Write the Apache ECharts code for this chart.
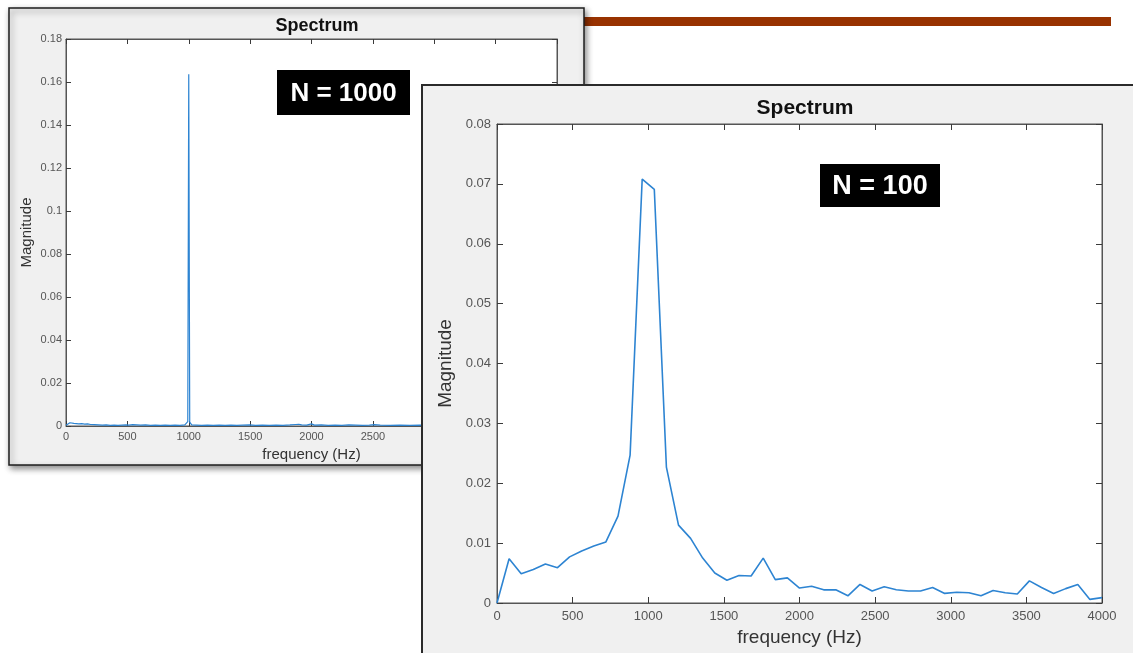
<!DOCTYPE html>
<html>
<head>
<meta charset="utf-8">
<title>Spectrum N = 1000 / N = 100</title>
<script src="https://cdn.jsdelivr.net/npm/echarts@6/dist/echarts.min.js"></script>
<style>
	html, body { margin: 0; padding: 0; background: #fff; }
	#spectrum { width: 1133px; height: 653px; }
</style>
</head>
<body>
<div id="spectrum"></div>
<script>
//////////// 데이터 ////////////
// N = 1000 (뒤쪽 창) - 눈으로 읽은 값
var freq1000 = [0, 16, 32, 48, 64, 80, 104, 128, 152, 176, 200, 232, 264, 296, 328, 360, 392, 424, 456, 488,
	512, 544, 560, 576, 608, 648, 688, 728, 768, 808, 848, 888, 928, 968, 992, 1000, 1008, 1024, 1064, 1104,
	1152, 1200, 1248, 1296, 1344, 1392, 1440, 1496, 1544, 1600, 1656, 1712, 1768, 1824, 1872, 1896, 1920, 1960, 2000, 2024,
	2080, 2136, 2192, 2248, 2304, 2360, 2416, 2472, 2512, 2560, 2640, 2720, 2800, 2880, 2960, 3040, 3200, 3400, 3600, 3800, 4000];
var mag1000 = [0.0003, 0.0009, 0.0015, 0.0014, 0.0012, 0.0013, 0.0010, 0.0011, 0.0009, 0.0010, 0.0007, 0.0006, 0.0005, 0.0004, 0.0005, 0.0003, 0.0004, 0.0003, 0.0004, 0.0005,
	0.0004, 0.0006, 0.0012, 0.0005, 0.0004, 0.0005, 0.0003, 0.0004, 0.0003, 0.0004, 0.0003, 0.0004, 0.0003, 0.0005, 0.0020, 0.1636, 0.0018, 0.0005, 0.0004, 0.0003,
	0.0004, 0.0003, 0.0004, 0.0003, 0.0004, 0.0003, 0.0004, 0.0005, 0.0003, 0.0004, 0.0003, 0.0004, 0.0003, 0.0005, 0.0007, 0.0008, 0.0005, 0.0004, 0.0010, 0.0004,
	0.0005, 0.0003, 0.0004, 0.0003, 0.0005, 0.0004, 0.0003, 0.0004, 0.0006, 0.0004, 0.0003, 0.0004, 0.0003, 0.0004, 0.0003, 0.0004, 0.0003, 0.0004, 0.0003, 0.0004, 0.0003];

// N = 100 (앞쪽 창)
var freq100 = [0, 80, 160, 240, 320, 400, 480, 560, 640, 720, 800, 880, 960, 1040, 1120, 1200, 1280, 1360, 1440, 1520,
	1600, 1680, 1760, 1840, 1920, 2000, 2080, 2160, 2240, 2320, 2400, 2480, 2560, 2640, 2720, 2800, 2880, 2960, 3040, 3120,
	3200, 3280, 3360, 3440, 3520, 3600, 3680, 3760, 3840, 3920, 4000];
var mag100 = [0, 0.0074, 0.0049, 0.0056, 0.0065, 0.0059, 0.0077, 0.0087, 0.0095, 0.0102, 0.0145, 0.0247, 0.0708, 0.0691, 0.0227, 0.0130, 0.0108, 0.0075, 0.0050, 0.0038,
	0.0046, 0.0045, 0.0075, 0.0039, 0.0042, 0.0025, 0.0028, 0.0022, 0.0022, 0.0012, 0.0031, 0.0020, 0.0027, 0.0022, 0.0020, 0.0020, 0.0026, 0.0016, 0.0018, 0.0017,
	0.0012, 0.0021, 0.0017, 0.0015, 0.0037, 0.0026, 0.0016, 0.0024, 0.0031, 0.0006, 0.0009];

// 축 범위 [min, max, interval]
var freqRange = [0, 4000, 500];
var magRange1000 = [0, 0.18, 0.02];
var magRange100 = [0, 0.08, 0.01];

var titleText = 'Spectrum';
var xName = 'frequency (Hz)';
var yName = 'Magnitude';
var labelN1000 = 'N = 1000';
var labelN100 = 'N = 100';

//////////// 차트 ////////////
var FONT = '"Liberation Sans", Arial, Helvetica, sans-serif';
var LINE_BLUE = '#2d84d2';
var AXIS_COLOR = '#555';

showSpectrumChart();

// 객체 합치기
function merge(a, b) {
	var out = {};
	for (var k in a) out[k] = a[k];
	for (var k2 in b) out[k2] = b[k2];
	return out;
}

// 콤마 없는 숫자 (MATLAB 표기)
function plainNumber(v) {
	return String(Math.round(v * 10000) / 10000);
}

// 한 창(그림)의 축 4개 - MATLAB 스타일 박스
function makeAxes(gridIndex, xr, yr, opt) {
	var tick = { inside: true, length: opt.tick, lineStyle: { color: '#3a3a3a', width: 1 } };
	var line = { show: true, onZero: false, lineStyle: { color: AXIS_COLOR, width: 1 } };
	var label = { fontSize: opt.tickFont, color: '#555', fontFamily: FONT, formatter: plainNumber };
	var nameStyle = { fontSize: opt.nameFont, color: '#333', fontFamily: FONT };
	var x = [
		{
			gridIndex: gridIndex, type: 'value', position: 'bottom',
			min: xr[0], max: xr[1], interval: xr[2],
			axisLine: line, axisTick: tick, splitLine: { show: false },
			axisLabel: merge(label, { margin: opt.xMargin }),
			name: xName, nameLocation: 'middle', nameGap: opt.xNameGap, nameTextStyle: nameStyle,
			z: opt.z
		},
		{
			gridIndex: gridIndex, type: 'value', position: 'top',
			min: xr[0], max: xr[1], interval: xr[2],
			axisLine: line, axisTick: tick, splitLine: { show: false },
			axisLabel: { show: false }, z: opt.z
		}
	];
	var y = [
		{
			gridIndex: gridIndex, type: 'value', position: 'left',
			min: yr[0], max: yr[1], interval: yr[2],
			axisLine: line, axisTick: tick, splitLine: { show: false },
			axisLabel: merge(label, { margin: opt.yMargin }),
			name: yName, nameLocation: 'middle', nameGap: opt.yNameGap, nameTextStyle: nameStyle,
			z: opt.z
		},
		{
			gridIndex: gridIndex, type: 'value', position: 'right',
			min: yr[0], max: yr[1], interval: yr[2],
			axisLine: line, axisTick: tick, splitLine: { show: false },
			axisLabel: { show: false }, z: opt.z
		}
	];
	return { x: x, y: y };
}

function toPairs(xs, ys) {
	var out = [];
	for (var i = 0; i < xs.length; i++) {
		out.push([xs[i], ys[i]]);
	}
	return out;
}

// 검은 박스 라벨
function blackLabel(text, x, y, w, h, size, z) {
	return {
		type: 'group', z: z,
		children: [
			{ type: 'rect', z: z, shape: { x: x, y: y, width: w, height: h }, style: { fill: '#000' } },
			{
				type: 'text', z: z + 1, x: x + w / 2, y: y + h / 2 + 1,
				style: {
					text: text, fill: '#fff', fontSize: size, fontWeight: 'bold', fontFamily: FONT,
					align: 'center', verticalAlign: 'middle'
				}
			}
		]
	};
}

function showSpectrumChart() {
	var chart = echarts.init(document.getElementById('spectrum'));

	var back = makeAxes(0, freqRange, magRange1000, {
		tick: 5, tickFont: 11, nameFont: 15, xMargin: 5, yMargin: 4, xNameGap: 19, yNameGap: 32, z: 4
	});
	var front = makeAxes(1, freqRange, magRange100, {
		tick: 6, tickFont: 13, nameFont: 19, xMargin: 7, yMargin: 6, xNameGap: 21, yNameGap: 35, z: 12
	});

	var option = {
		animation: false,
		backgroundColor: '#fff',
		title: [
			{
				text: titleText, left: 312, top: 12, textAlign: 'center', z: 4,
				textStyle: { fontSize: 18, fontWeight: 'bold', color: '#111', fontFamily: FONT }
			},
			{
				text: titleText, left: 800, top: 93, textAlign: 'center', z: 12,
				textStyle: { fontSize: 21, fontWeight: 'bold', color: '#111', fontFamily: FONT }
			}
		],
		grid: [
			{ left: 66, top: 39, width: 491, height: 387, show: true, backgroundColor: '#fff', borderColor: AXIS_COLOR, borderWidth: 1, z: 3 },
			{ left: 497, top: 124, width: 605, height: 479, show: true, backgroundColor: '#fff', borderColor: AXIS_COLOR, borderWidth: 1, z: 11 }
		],
		xAxis: back.x.concat(front.x),
		yAxis: back.y.concat(front.y),
		series: [
			{
				name: 'N = 1000', type: 'line', xAxisIndex: 0, yAxisIndex: 0,
				data: toPairs(freq1000, mag1000), showSymbol: false,
				lineStyle: { color: LINE_BLUE, width: 1.2 }, z: 5
			},
			{
				name: 'N = 100', type: 'line', xAxisIndex: 2, yAxisIndex: 2,
				data: toPairs(freq100, mag100), showSymbol: false,
				lineStyle: { color: LINE_BLUE, width: 1.6 }, z: 13
			}
		],
		graphic: [
			// 빨간 줄 (슬라이드 장식)
			{ type: 'rect', z: 1, shape: { x: 583, y: 17, width: 528, height: 9 }, style: { fill: '#983200' } },
			// 뒤쪽 창
			{
				type: 'rect', z: 2, shape: { x: 9, y: 8, width: 575, height: 457 },
				style: { fill: '#f0f0f0', stroke: '#1e1e1e', lineWidth: 1.5, shadowBlur: 6, shadowOffsetX: 2, shadowOffsetY: 3, shadowColor: 'rgba(0,0,0,0.45)' }
			},
			blackLabel(labelN1000, 277, 70, 133, 45, 26, 6),
			// 앞쪽 창
			{
				type: 'rect', z: 10, shape: { x: 422, y: 85, width: 730, height: 590 },
				style: { fill: '#f0f0f0', stroke: '#2a2a2a', lineWidth: 2 }
			},
			blackLabel(labelN100, 820, 164, 120, 43, 27, 14)
		]
	};

	chart.setOption(option);
}
</script>
</body>
</html>
